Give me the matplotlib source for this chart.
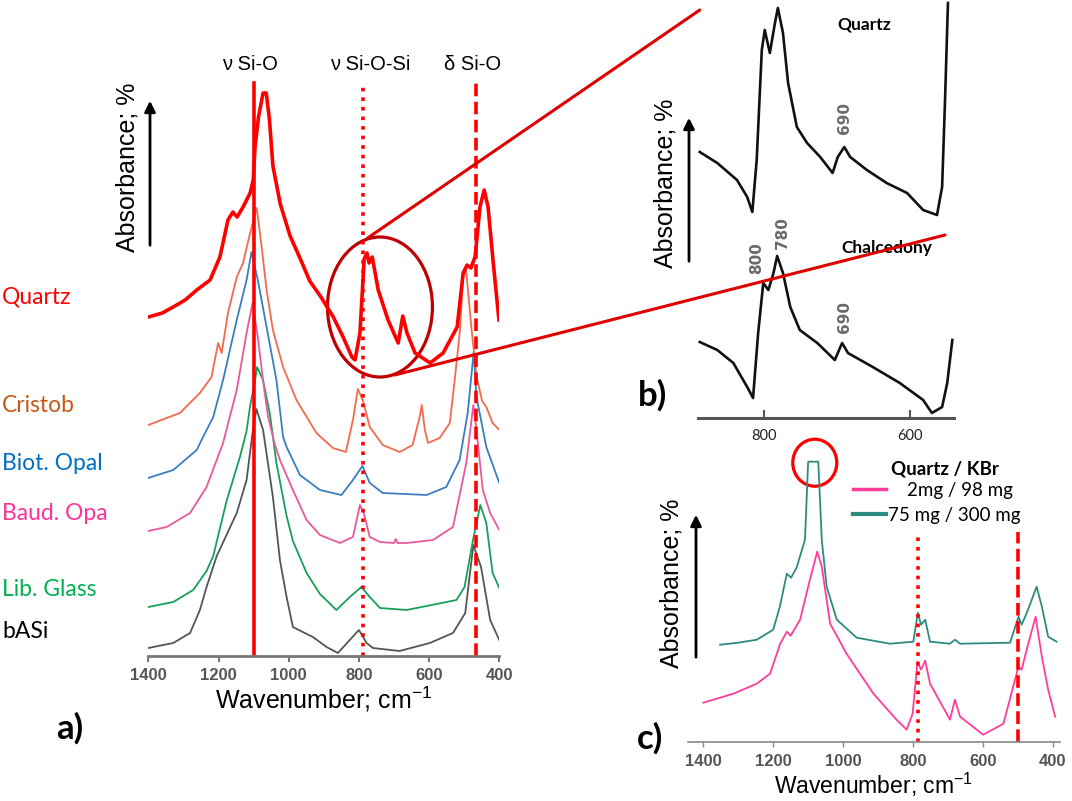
import matplotlib.pyplot as plt
from matplotlib.patches import Ellipse, ConnectionPatch
from matplotlib.lines import Line2D

plt.rcParams['font.family'] = ['Liberation Sans', 'DejaVu Sans']
plt.rcParams['mathtext.fontset'] = 'custom'
plt.rcParams['mathtext.rm'] = 'Liberation Sans'

# ---------- panel a : stacked FTIR spectra (arbitrary absorbance units) ----------
quartz_wn = [1400, 1360, 1329, 1295, 1262, 1224, 1196, 1173, 1159, 1147, 1130, 1110, 1101, 1096,
             1086, 1073, 1064, 1055, 1045, 1024, 996, 968, 940, 910, 873, 845, 820, 811, 797,
             785, 777, 771, 762, 745, 717, 688, 675, 663, 640, 597, 560, 520, 503, 492, 481,
             469, 455, 443, 432, 418, 401]
quartz_ab = [339, 343, 349, 356, 366, 376, 399, 436, 444, 439, 449, 463, 476, 509,
             539, 563, 563, 537, 490, 452, 420, 398, 375, 360, 339, 319, 299, 296, 323,
             397, 403, 393, 399, 366, 336, 313, 340, 323, 303, 293, 303, 329, 383, 391, 388,
             399, 449, 466, 449, 396, 336]

cristob_wn = [1400, 1310, 1253, 1220, 1201, 1191, 1173, 1148, 1130, 1110, 1091, 1077, 1063, 1045,
              1016, 978, 921, 874, 837, 817, 803, 789, 769, 732, 684, 647, 627, 621, 612, 603,
              570, 541, 527, 512, 503, 495, 480, 465, 449, 437, 419, 400]
cristob_ab = [231, 243, 263, 279, 313, 303, 343, 379, 393, 423, 448, 409, 366, 326,
              289, 256, 223, 208, 204, 236, 267, 256, 229, 211, 204, 211, 239, 251, 226, 213,
              218, 233, 276, 326, 378, 388, 330, 280, 255, 249, 233, 226]

biot_wn = [1400, 1329, 1262, 1244, 1215, 1187, 1148, 1120, 1106, 1088, 1063, 1035, 1016, 1006,
           968, 911, 850, 817, 790, 769, 732, 607, 551, 513, 490, 473, 465, 437, 400]
biot_ab = [178, 186, 206, 219, 239, 276, 336, 376, 404, 376, 329, 276, 219, 209,
           181, 166, 161, 176, 190, 173, 163, 161, 169, 196, 243, 304, 259, 209, 173]

baud_wn = [1400, 1348, 1281, 1234, 1187, 1148, 1120, 1103, 1088, 1073, 1059, 1040, 1025, 988,
           949, 911, 854, 817, 797, 786, 769, 740, 700, 695, 690, 664, 589, 532, 494, 474,
           465, 447, 426, 400]
baud_ab = [125, 129, 143, 169, 213, 266, 323, 353, 319, 275, 240, 212, 196, 166,
           136, 121, 113, 119, 151, 143, 119, 114, 113, 117, 113, 113, 116, 129, 193, 251,
           226, 166, 143, 126]

glass_wn = [1400, 1329, 1272, 1234, 1215, 1177, 1139, 1120, 1110, 1096, 1090, 1073, 1063, 1054,
            1035, 1006, 988, 949, 911, 864, 826, 793, 769, 740, 664, 522, 499, 475, 454, 437,
            419, 400]
glass_ab = [49, 54, 66, 85, 100, 155, 199, 225, 250, 275, 289, 276, 258, 243,
            193, 140, 115, 83, 62, 46, 59, 69, 59, 48, 46, 56, 69, 116, 151, 133,
            83, 68]

basi_wn = [1400, 1329, 1281, 1253, 1234, 1205, 1148, 1120, 1102, 1092, 1073, 1045, 1025, 1006,
           988, 960, 931, 892, 860, 826, 800, 778, 760, 684, 598, 532, 497, 474, 452, 426, 400]
basi_ab = [8, 13, 23, 46, 69, 100, 143, 176, 226, 247, 226, 159, 96, 59,
           29, 24, 19, 9, 3, 16, 26, 13, 8, 5, 13, 23, 43, 111, 89, 36, 16]

a_names = ['Quartz', 'Cristob', 'Biot. Opal', 'Baud. Opa', 'Lib. Glass', 'bASi']
band_names = ['ν Si-O', 'ν Si-O-Si', 'δ Si-O']
band_wn = [1098, 788, 467]

# ---------- panel b : zoom on the 800/780 doublet ----------
bq_wn = [888, 864, 837, 823, 816, 810, 803, 799, 792, 785, 781, 774, 767, 755, 741, 723, 706,
         699, 690, 682, 659, 632, 604, 582, 563, 556, 552, 548]
bq_ab = [266, 255, 238, 221, 206, 258, 368, 388, 365, 395, 410, 385, 335, 291, 275, 261, 245,
         261, 271, 261, 248, 235, 225, 208, 203, 231, 318, 415]
bc_wn = [888, 864, 842, 823, 815, 808, 801, 794, 787, 782, 774, 764, 751, 727, 703, 693, 685,
         651, 614, 582, 570, 556, 549, 542]
bc_ab = [76, 68, 55, 31, 20, 85, 135, 128, 145, 162, 145, 111, 88, 75, 58, 75, 65,
         51, 35, 18, 5, 11, 35, 78]
b_names = ['Quartz', 'Chalcedony']
b_peaks = ['690', '800', '780', '690']
b_peak_pos = [(690, 300), (810, 160), (775, 185), (690, 101)]

# ---------- panel c : quartz / KBr dilution ----------
teal_wn = [1352, 1300, 1247, 1200, 1181, 1161, 1149, 1133, 1109, 1100, 1071, 1061, 1047, 1018,
           961, 866, 799, 786, 777, 765, 751, 694, 680, 665, 522, 498, 489, 474, 446, 431,
           413, 389]
teal_ab = [97, 99, 102, 112, 135, 168, 164, 174, 202, 280, 280, 202, 155, 122,
           104, 98, 100, 129, 117, 122, 100, 98, 102, 98, 99, 125, 117, 129, 155, 135,
           105, 100]
pink_wn = [1400, 1314, 1247, 1209, 1180, 1161, 1150, 1123, 1095, 1074, 1061, 1037, 990, 913,
           847, 818, 801, 787, 777, 765, 751, 694, 680, 665, 599, 541, 508, 498, 489, 470,
           449, 431, 413, 393]
pink_ab = [39, 48, 58, 68, 98, 110, 106, 122, 162, 190, 175, 118, 88, 48,
           22, 12, 28, 80, 72, 81, 58, 22, 42, 25, 7, 18, 62, 75, 72, 98,
           125, 85, 52, 25]
c_labels = ['    2mg / 98 mg', '75 mg / 300 mg']
c_lines_wn = [785, 498]

W, H = 1072, 801
fig = plt.figure(figsize=(W / 100, H / 100), dpi=100)


def box(x0, y0, x1, y1):
    return [x0 / W, 1 - y1 / H, (x1 - x0) / W, (y1 - y0) / H]


red = '#ff0000'
tick_font = dict(fontsize=12, fontweight='bold', color='#555555')
dashed = (0, (3.5, 1.5))

# ----- panel a -----
ax_a = fig.add_axes(box(148.3, 80, 499.3, 656))
a_series = [(quartz_wn, quartz_ab), (cristob_wn, cristob_ab), (biot_wn, biot_ab),
            (baud_wn, baud_ab), (glass_wn, glass_ab), (basi_wn, basi_ab)]
a_line_colors = ['#ff0000', '#f46a4e', '#3b7ebf', '#e8589c', '#16a05a', '#555555']
a_text_colors = ['#ff0000', '#c55a11', '#0070c0', '#ff3399', '#00b050', '#000000']
a_widths = [2.6, 1.3, 1.3, 1.3, 1.3, 1.3]
for (x, y), c, lw in list(zip(a_series, a_line_colors, a_widths))[::-1]:
    ax_a.plot(x, y, color=c, lw=lw, solid_joinstyle='round')
for wn, ls in zip(band_wn, ['-', ':', dashed]):
    ax_a.plot([wn, wn], [0, 573], color=red, lw=2.6, ls=ls)
for name, xt in zip(band_names, [1110, 768, 476]):
    ax_a.text(xt, 591, name, ha='center', va='center', fontsize=14.5)
ax_a.set_xlim(1400, 400)
ax_a.set_ylim(0, 576)
ax_a.set_xticks([1400, 1200, 1000, 800, 600, 400])
for s in ['top', 'left', 'right']:
    ax_a.spines[s].set_visible(False)
ax_a.spines['bottom'].set_color('#777777')
ax_a.spines['bottom'].set_linewidth(2)
ax_a.tick_params(axis='x', length=4.5, width=1.5, color='#777777', pad=4)
ax_a.set_yticks([])
for lab in ax_a.get_xticklabels():
    lab.set(**tick_font)
ax_a.set_xlabel('Wavenumber; cm$^{-1}$', fontsize=18, labelpad=1)
ax_a.patch.set_alpha(0)
ax_a.add_patch(Ellipse((740, 349), 299, 140, fill=False, ec='#c00000', lw=2.3, clip_on=False))

# ----- panel b -----
ax_b = fig.add_axes(box(698.3, 0, 953.8, 418))
ax_b.plot(bq_wn, bq_ab, color='#111111', lw=1.9, solid_joinstyle='round')
ax_b.plot(bc_wn, bc_ab, color='#111111', lw=1.9, solid_joinstyle='round')
ax_b.set_xlim(890, 540)
ax_b.set_ylim(0, 418)
ax_b.set_xticks([800, 600])
ax_b.set_yticks([])
for s in ['top', 'left', 'right']:
    ax_b.spines[s].set_visible(False)
ax_b.spines['bottom'].set_color('#555555')
ax_b.spines['bottom'].set_linewidth(2.2)
ax_b.tick_params(axis='x', direction='in', length=6, width=1.5, color='#555555', pad=8)
for lab in ax_b.get_xticklabels():
    lab.set(fontsize=10.5, family='Lato', color='#222222')
ax_b.text(662, 393, b_names[0], ha='center', va='center', fontsize=12.5,
          fontweight='bold', family='Lato')
ax_b.text(632, 170, b_names[1], ha='center', va='center', fontsize=12.5,
          fontweight='bold', family='Lato')
for t, (xp, yp) in zip(b_peaks, b_peak_pos):
    ax_b.text(xp, yp, t, rotation=90, ha='center', va='center', fontsize=11,
              fontweight='bold', family='DejaVu Sans', color='#6a6a6a')
ax_b.patch.set_alpha(0)

# ----- panel c -----
ax_c = fig.add_axes(box(687.6, 415, 1059.7, 741.7))
ax_c.plot(pink_wn, pink_ab, color='#ff3c9a', lw=1.3, solid_joinstyle='round')
ax_c.plot(teal_wn, teal_ab, color='#2e8b80', lw=1.3, solid_joinstyle='round')
for wn, ls in zip(c_lines_wn, [':', dashed]):
    ax_c.plot([wn, wn], [0, 210], color=red, lw=2.6, ls=ls)
ax_c.set_xlim(1445, 380)
ax_c.set_ylim(0, 326.7)
ax_c.set_xticks([1400, 1200, 1000, 800, 600, 400])
ax_c.set_yticks([])
for s in ['top', 'left', 'right']:
    ax_c.spines[s].set_visible(False)
ax_c.spines['bottom'].set_color('#888888')
ax_c.spines['bottom'].set_linewidth(1.2)
ax_c.tick_params(axis='x', length=3.5, width=1, color='#888888', pad=5.5)
for lab in ax_c.get_xticklabels():
    lab.set(**tick_font)
ax_c.set_xlabel('Wavenumber; cm$^{-1}$', fontsize=16.5, labelpad=1)
ax_c.add_patch(Ellipse((1081, 279), 126, 47, fill=False, ec=red, lw=2.3, clip_on=False))
ax_c.patch.set_alpha(0)
handles = [Line2D([], [], color='#ff3c9a', lw=2.5), Line2D([], [], color='#2e8b80', lw=3)]
ax_c.legend(handles, c_labels, loc='upper left', bbox_to_anchor=(853 / W, 1 - 482 / H),
            bbox_transform=fig.transFigure, frameon=False, borderpad=0, borderaxespad=0,
            handlelength=1.75, handletextpad=0.1, labelspacing=0.42,
            prop={'family': 'Lato', 'size': 13.5})

# ----- zoom connectors between a and b -----
for pa, pb in [((775, 418), (888, 408)), ((698, 281), (552, 183))]:
    con = ConnectionPatch(xyA=pa, coordsA=ax_a.transData, xyB=pb, coordsB=ax_b.transData,
                          color='#e00000', lw=2.2)
    fig.add_artist(con)

# ----- overlay: labels, arrows -----
ov = fig.add_axes([0, 0, 1, 1])
ov.set_xlim(0, W)
ov.set_ylim(H, 0)
ov.axis('off')
ov.patch.set_alpha(0)

for name, yy, c in zip(a_names, [297, 406, 463, 513, 589, 632], a_text_colors):
    ov.text(2, yy, name, color=c, fontsize=16.5, family='Lato', ha='left', va='center')

for xl, yl, xa, y0, y1 in [(127, 167, 150, 248, 98), (665, 183, 689, 264, 115),
                           (672, 583, 696, 660, 512)]:
    ov.text(xl, yl, 'Absorbance; %', rotation=90, ha='center', va='center', fontsize=18)
    ov.annotate('', xy=(xa, y1), xytext=(xa, y0),
                arrowprops=dict(arrowstyle='-|>', color='black', lw=2, mutation_scale=16))

ov.text(945, 469, 'Quartz / KBr', ha='center', va='center', fontsize=13.5,
        fontweight='bold', family='Lato')
for t, xx, yy in [('a)', 70, 728), ('b)', 653, 395), ('c)', 650, 738)]:
    ov.text(xx, yy, t, ha='center', va='center', fontsize=25, fontweight='bold', family='Lato')

fig.savefig('out.png', dpi=100)
